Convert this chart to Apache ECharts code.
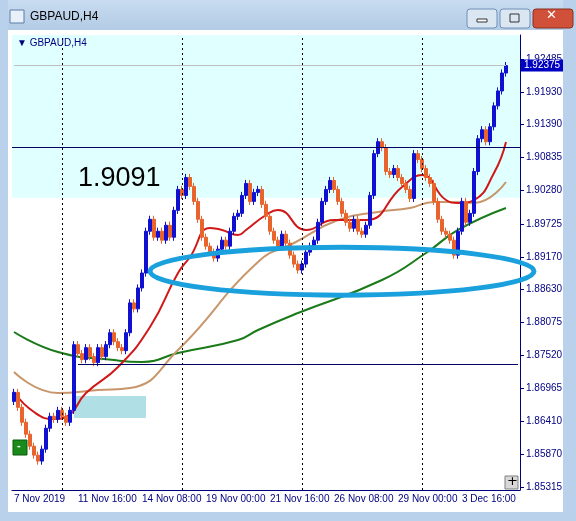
<!DOCTYPE html>
<html>
<head>
<meta charset="utf-8">
<script src="https://cdn.jsdelivr.net/npm/echarts@6/dist/echarts.min.js"></script>
<style>
  html, body { margin: 0; padding: 0; background: #fff; }
  #main { width: 576px; height: 521px; }
</style>
</head>
<body>
<div id="main"></div>
<script>
// H4 closes
var closes = [
  1.8690, 1.8665, 1.8640, 1.8620, 1.8600, 1.8585, 1.8575, 1.8595, 1.8630, 1.8650,
  1.8645, 1.8660, 1.8650, 1.8640, 1.8660, 1.8770, 1.8755, 1.8745, 1.8765, 1.8750,
  1.8740, 1.8765, 1.8750, 1.8770, 1.8790, 1.8775, 1.8765, 1.8760, 1.8790, 1.8840,
  1.8830, 1.8865, 1.8890, 1.8960, 1.8980, 1.8950, 1.8960, 1.8945, 1.8970, 1.8950,
  1.8995, 1.9030, 1.9020, 1.9050, 1.9035, 1.9010, 1.8980, 1.8950, 1.8935, 1.8925,
  1.8915, 1.8930, 1.8945, 1.8935, 1.8960, 1.8985, 1.8990, 1.9020, 1.9040, 1.9010,
  1.9025, 1.9030, 1.9005, 1.8985, 1.8960, 1.8945, 1.8935, 1.8955, 1.8940, 1.8920,
  1.8905, 1.8895, 1.8905, 1.8925, 1.8935, 1.8945, 1.8975, 1.9010, 1.9030, 1.9045,
  1.9030, 1.9010, 1.8990, 1.8975, 1.8965, 1.8980, 1.8960, 1.8955, 1.8970, 1.9020,
  1.9090, 1.9110, 1.9100, 1.9060, 1.9055, 1.9065, 1.9050, 1.9040, 1.9030, 1.9015,
  1.9090, 1.9080, 1.9065, 1.9050, 1.9040, 1.9010, 1.8980, 1.8960, 1.8955, 1.8945,
  1.8920, 1.8960, 1.9010, 1.8975, 1.8990, 1.9060, 1.9115, 1.9130, 1.9110, 1.9135,
  1.9170, 1.9195, 1.9225, 1.92375
];
var firstOpen = 1.8675;
var wick = 0.0006;

// moving averages, [bar, price]
var maFast = [[0,1.86907],[5,1.86572],[10,1.86455],[13,1.86489],[18,1.86891],[26,1.87326],
  [34,1.87996],[41,1.88900],[44,1.89168],[49,1.89654],[52,1.89621],[56,1.89537],[58,1.89621],
  [63,1.89872],[66,1.89956],[73,1.89621],[80,1.89788],[88,1.89788],[97,1.90341],[102,1.90542],
  [108,1.90123],[111,1.90073],[115,1.90123],[120,1.90575],[123,1.91095]];
var maMid = [[0,1.87242],[11,1.86891],[21,1.86941],[29,1.86974],[41,1.87611],[61,1.89085],
  [70,1.89403],[81,1.89788],[91,1.89922],[99,1.89989],[105,1.90090],[110,1.90090],
  [115,1.90073],[123,1.90425]];
var maSlow = [[0,1.87913],[11,1.87577],[25,1.87443],[32,1.87410],[41,1.87560],[56,1.87778],
  [61,1.87946],[71,1.88230],[92,1.88783],[103,1.89235],[111,1.89621],[123,1.89989]];

var xLabels = ['7 Nov 2019', '11 Nov 16:00', '14 Nov 08:00', '19 Nov 00:00',
  '21 Nov 16:00', '26 Nov 08:00', '29 Nov 00:00', '3 Dec 16:00'];
var yTicks = [1.85315, 1.85870, 1.86410, 1.86965, 1.87520, 1.88075, 1.88630, 1.89170,
  1.89725, 1.90280, 1.90835, 1.91390, 1.91930, 1.92485];
var weekLines = [12, 42, 72, 102];
var level = 1.9091, lowLevel = 1.8738, zoneTop = 1.9016, lastPrice = 1.92375;

var nBars = closes.length + 3;
var cats = [];
for (var i = 0; i < nBars; i++) cats.push(i);
var ohlc = closes.map(function (c, i) {
  var o = i === 0 ? firstOpen : closes[i - 1];
  return [o, c, Math.min(o, c) - wick, Math.max(o, c) + wick];
});

var font = 'Liberation Sans';
var myChart = echarts.init(document.getElementById('main'));
var option = {
  animation: false,
  grid: { left: 12, right: 56, top: 35, bottom: 31 },
  xAxis: {
    type: 'category', data: cats, boundaryGap: true,
    axisLine: { lineStyle: { color: '#000080' } },
    axisTick: { interval: function (i) { return i % 16 === 0; }, length: 4, lineStyle: { color: '#000080' } },
    axisLabel: {
      interval: function (i) { return i % 16 === 0; },
      formatter: function (v, i) { return xLabels[i / 16] || ''; },
      align: 'left', color: '#000080', fontFamily: font, fontSize: 10, margin: 4
    },
    splitLine: { show: false }
  },
  yAxis: {
    type: 'value', position: 'right', min: 1.85266, max: 1.92887, scale: true,
    axisLine: { show: true, lineStyle: { color: '#000080' } },
    axisTick: { show: true, customValues: yTicks, length: 4, inside: false, lineStyle: { color: '#000080' } },
    axisLabel: { customValues: yTicks, color: '#000080', fontFamily: font, fontSize: 10, margin: 6,
      formatter: function (v) { return v.toFixed(5); } },
    splitLine: { show: false }
  },
  series: [
    {
      type: 'candlestick', data: ohlc, barWidth: 3, z: 4,
      itemStyle: { color: '#1010d0', color0: '#e8642c', borderColor: '#1010d0', borderColor0: '#e8642c', borderWidth: 1 }
    },
    { type: 'line', data: maSlow, smooth: true, showSymbol: false, lineStyle: { color: '#1a7a1a', width: 2 }, z: 3,
      markArea: {
        silent: true,
        data: [
          [{ yAxis: zoneTop, itemStyle: { color: '#e0ffff' } }, { yAxis: 1.92887 }],
          [{ xAxis: 15, yAxis: 1.8684, itemStyle: { color: '#b0e0e6' } }, { xAxis: 33, yAxis: 1.8647 }]
        ]
      },
      markLine: {
        silent: true, symbol: 'none', label: { show: false },
        data: [
          { yAxis: level, lineStyle: { color: '#000060', type: 'solid', width: 1 } },
          [{ xAxis: 0, yAxis: lastPrice, lineStyle: { color: '#c0c0c0', type: 'solid', width: 1 } }, { xAxis: closes.length - 1, yAxis: lastPrice }],
          [{ xAxis: 16, yAxis: lowLevel, lineStyle: { color: '#000060', type: 'solid', width: 1 } }, { xAxis: nBars - 1, yAxis: lowLevel }]
        ].concat(weekLines.map(function (b) {
          return { xAxis: b, lineStyle: { color: '#000000', type: [2, 3], width: 1 } };
        }))
      }
    },
    { type: 'line', data: maMid, smooth: true, showSymbol: false, lineStyle: { color: '#c8966a', width: 2 }, z: 3 },
    { type: 'line', data: maFast, smooth: true, showSymbol: false, lineStyle: { color: '#d01818', width: 2 }, z: 3 }
  ]
};
myChart.setOption(option);

// annotations placed through the chart's own scales
var c = myChart.convertToPixel({ gridIndex: 0 }, [82, 1.8893]);
var e1 = myChart.convertToPixel({ gridIndex: 0 }, [34, 1.8853]);
var lp = myChart.convertToPixel({ gridIndex: 0 }, [0, lastPrice]);
var lv = myChart.convertToPixel({ gridIndex: 0 }, [0, level]);
myChart.setOption({
  graphic: [
    // window frame
    { type: 'rect', shape: { x: 0, y: 0, width: 576, height: 30 }, z: -10,
      style: { fill: new echarts.graphic.LinearGradient(0, 0, 0, 1, [{ offset: 0, color: '#c9dcf0' }, { offset: 1, color: '#b2cbe5' }]) } },
    { type: 'rect', shape: { x: 0, y: 0, width: 8, height: 521 }, style: { fill: '#b9d1ea' }, z: -10 },
    { type: 'rect', shape: { x: 563, y: 0, width: 13, height: 521 }, style: { fill: '#b9d1ea' }, z: -10 },
    { type: 'rect', shape: { x: 0, y: 512, width: 576, height: 9 }, style: { fill: '#b9d1ea' }, z: -10 },
    { type: 'text', left: 30, top: 11, style: { text: 'GBPAUD,H4', font: '12px "Liberation Sans"', fill: '#000' } },
    { type: 'rect', shape: { x: 10, y: 10, width: 14, height: 13 }, style: { fill: '#e8f0fa', stroke: '#5a7ea8' } },
    { type: 'rect', shape: { x: 467, y: 9, width: 30, height: 19, r: 3 }, style: { fill: '#dbe6f3', stroke: '#7090b8' } },
    { type: 'rect', shape: { x: 500, y: 9, width: 30, height: 19, r: 3 }, style: { fill: '#dbe6f3', stroke: '#7090b8' } },
    { type: 'rect', shape: { x: 533, y: 9, width: 40, height: 19, r: 3 }, style: { fill: '#d0503a', stroke: '#8a3020' } },
    { type: 'text', left: 546, top: 9, style: { text: '✕', font: 'bold 13px "DejaVu Sans"', fill: '#fff' } },
    { type: 'rect', shape: { x: 477, y: 19, width: 10, height: 3 }, style: { fill: '#fff', stroke: '#333' } },
    { type: 'rect', shape: { x: 510, y: 14, width: 9, height: 8 }, style: { fill: 'none', stroke: '#333' } },
    // chart texts
    { type: 'text', left: 17, top: 38, style: { text: '▼ GBPAUD,H4', font: '10px "Liberation Sans"', fill: '#000080' }, z: 10 },
    { type: 'text', left: 78, top: lv[1] + 12, style: { text: level.toFixed(4), font: '27px "Liberation Sans"', fill: '#000' }, z: 10 },
    { type: 'rect', shape: { x: 521, y: lp[1] - 6, width: 42, height: 12 }, style: { fill: '#0000c0' }, z: 10 },
    { type: 'text', left: 524, top: lp[1] - 5, style: { text: '1.92375', font: '10px "Liberation Sans"', fill: '#fff' }, z: 11 },
    { type: 'ellipse', shape: { cx: c[0], cy: c[1], rx: c[0] - e1[0], ry: e1[1] - c[1] },
      style: { fill: 'none', stroke: '#1aa0dc', lineWidth: 5 }, z: 9 },
    { type: 'rect', shape: { x: 13, y: 440, width: 14, height: 15 }, style: { fill: '#1a8a1a', stroke: '#0a5a0a' }, z: 10 },
    { type: 'text', left: 17, top: 440, style: { text: '-', font: 'bold 11px "Liberation Sans"', fill: '#fff' }, z: 11 },
    { type: 'rect', shape: { x: 505, y: 476, width: 13, height: 13 }, style: { fill: '#d8d8d8', stroke: '#808080' }, z: 10 },
    { type: 'text', left: 507, top: 475, style: { text: '+', font: '13px "DejaVu Sans"', fill: '#000' }, z: 11 }
  ]
});
</script>
</body>
</html>
